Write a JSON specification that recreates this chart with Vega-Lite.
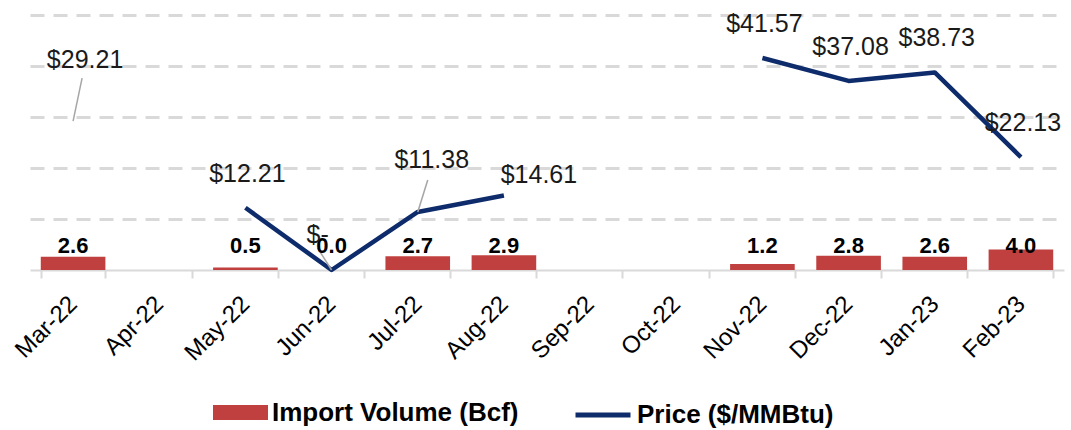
{
  "$schema": "https://vega.github.io/schema/vega-lite/v6.json",
  "width": 1034,
  "height": 255,
  "autosize": {"type": "none"},
  "padding": {"left": 30, "top": 15, "right": 7, "bottom": 160},
  "background": "white",
  "config": {
    "view": {"stroke": null},
    "font": "Liberation Sans",
    "text": {"font": "Liberation Sans"}
  },
  "data": {
    "values": [
      {"month": "Mar-22", "volume": 2.6, "price": 29.21},
      {"month": "Apr-22", "volume": null, "price": null},
      {"month": "May-22", "volume": 0.5, "price": 12.21},
      {"month": "Jun-22", "volume": 0.0, "price": 0},
      {"month": "Jul-22", "volume": 2.7, "price": 11.38},
      {"month": "Aug-22", "volume": 2.9, "price": 14.61},
      {"month": "Sep-22", "volume": null, "price": null},
      {"month": "Oct-22", "volume": null, "price": null},
      {"month": "Nov-22", "volume": 1.2, "price": 41.57},
      {"month": "Dec-22", "volume": 2.8, "price": 37.08},
      {"month": "Jan-23", "volume": 2.6, "price": 38.73},
      {"month": "Feb-23", "volume": 4.0, "price": 22.13}
    ]
  },
  "encoding": {
    "x": {
      "field": "month",
      "type": "nominal",
      "sort": null,
      "scale": {
        "domain": ["Mar-22", "Apr-22", "May-22", "Jun-22", "Jul-22", "Aug-22", "Sep-22", "Oct-22", "Nov-22", "Dec-22", "Jan-23", "Feb-23"],
        "paddingInner": 0.25,
        "paddingOuter": 0.125
      },
      "axis": {
        "title": null,
        "labelAngle": -45,
        "labelFontSize": 24,
        "labelColor": "#000000",
        "labelFont": "Liberation Sans",
        "labelPadding": 22,
        "labelAlign": "right",
        "labelBaseline": "middle",
        "tickBand": "extent",
        "tickColor": "#D9D9D9",
        "tickWidth": 2,
        "tickSize": 8,
        "domainColor": "#D9D9D9",
        "domainWidth": 2,
        "grid": false
      }
    }
  },
  "layer": [
    {
      "mark": {"type": "bar"},
      "encoding": {
        "y": {
          "field": "volume",
          "type": "quantitative",
          "scale": {"domain": [0, 50], "nice": false},
          "axis": {
            "title": null,
            "labels": false,
            "ticks": false,
            "domain": false,
            "grid": true,
            "values": [10, 20, 30, 40, 50],
            "gridColor": "#D9D9D9",
            "gridWidth": 3,
            "gridDash": [14, 9]
          }
        },
        "fill": {
          "datum": "Import Volume (Bcf)",
          "scale": {"range": ["#C0403F"]},
          "legend": {
            "title": null,
            "orient": "none",
            "legendX": 183,
            "legendY": 370,
            "padding": 0,
            "symbolType": "M-1,-0.27H1V0.27H-1Z",
            "symbolSize": 3025,
            "symbolStrokeWidth": 0,
            "labelFontSize": 26,
            "labelFontWeight": "bold",
            "labelColor": "#000000",
            "labelFont": "Liberation Sans",
            "labelLimit": 400,
            "labelOffset": 4
          }
        }
      }
    },
    {
      "mark": {"type": "line", "strokeWidth": 4.5, "invalid": "break-paths-show-domains", "strokeCap": "butt", "strokeJoin": "round"},
      "encoding": {
        "y": {"field": "price", "type": "quantitative", "scale": {"domain": [0, 50], "nice": false}},
        "stroke": {
          "datum": "Price ($/MMBtu)",
          "scale": {"range": ["#0E2C6B"]},
          "legend": {
            "title": null,
            "orient": "none",
            "legendX": 543,
            "legendY": 370,
            "padding": 0,
            "symbolType": "stroke",
            "symbolSize": 3025,
            "symbolStrokeWidth": 5,
            "labelFontSize": 26,
            "labelFontWeight": "bold",
            "labelColor": "#000000",
            "labelFont": "Liberation Sans",
            "labelLimit": 400,
            "labelOffset": 4
          }
        }
      }
    },
    {
      "transform": [{"filter": {"field": "month", "equal": "Mar-22"}}],
      "mark": {"type": "rule", "color": "#A6A6A6", "strokeWidth": 1.5, "x2Offset": 9, "y2Offset": -43},
      "encoding": {
        "y": {"field": "price", "type": "quantitative"},
        "x2": {"field": "month"},
        "y2": {"field": "price"}
      }
    },
    {
      "transform": [{"filter": {"field": "month", "equal": "Jun-22"}}],
      "mark": {"type": "rule", "color": "#A6A6A6", "strokeWidth": 1.5, "x2Offset": -14, "y2Offset": -22},
      "encoding": {
        "y": {"field": "price", "type": "quantitative"},
        "x2": {"field": "month"},
        "y2": {"field": "price"}
      }
    },
    {
      "transform": [{"filter": {"field": "month", "equal": "Jul-22"}}],
      "mark": {"type": "rule", "color": "#A6A6A6", "strokeWidth": 1.5, "x2Offset": 10, "y2Offset": -32},
      "encoding": {
        "y": {"field": "price", "type": "quantitative"},
        "x2": {"field": "month"},
        "y2": {"field": "price"}
      }
    },
    {
      "transform": [{"filter": "isValid(datum.volume)"}],
      "mark": {"type": "text", "fontSize": 22, "fontWeight": "bold", "baseline": "middle", "color": "#000000"},
      "encoding": {
        "y": {"datum": 4.8, "scale": {"domain": [0, 50], "nice": false}},
        "text": {"field": "volume", "type": "quantitative", "format": ".1f"}
      }
    },
    {
      "transform": [{"filter": {"field": "month", "oneOf": ["May-22", "Nov-22", "Dec-22", "Jan-23", "Feb-23"]}}],
      "mark": {"type": "text", "fontSize": 25, "baseline": "middle", "color": "#1A1A1A", "dx": 2, "dy": -34},
      "encoding": {
        "y": {"field": "price", "type": "quantitative"},
        "text": {"field": "price", "type": "quantitative", "format": "$.2f"}
      }
    },
    {
      "transform": [{"filter": {"field": "month", "equal": "Mar-22"}}],
      "mark": {"type": "text", "fontSize": 25, "baseline": "middle", "color": "#1A1A1A", "dx": 12, "dy": -61},
      "encoding": {
        "y": {"field": "price", "type": "quantitative"},
        "text": {"field": "price", "type": "quantitative", "format": "$.2f"}
      }
    },
    {
      "transform": [{"filter": {"field": "month", "equal": "Jun-22"}}],
      "mark": {"type": "text", "fontSize": 25, "baseline": "middle", "color": "#1A1A1A", "dx": -14, "dy": -35},
      "encoding": {
        "y": {"field": "price", "type": "quantitative"},
        "text": {"condition": {"test": "datum.price === 0", "value": "$-"}, "field": "price", "type": "quantitative", "format": "$.2f"}
      }
    },
    {
      "transform": [{"filter": {"field": "month", "equal": "Jul-22"}}],
      "mark": {"type": "text", "fontSize": 25, "baseline": "middle", "color": "#1A1A1A", "dx": 14, "dy": -52},
      "encoding": {
        "y": {"field": "price", "type": "quantitative"},
        "text": {"field": "price", "type": "quantitative", "format": "$.2f"}
      }
    },
    {
      "transform": [{"filter": {"field": "month", "equal": "Aug-22"}}],
      "mark": {"type": "text", "fontSize": 25, "baseline": "middle", "color": "#1A1A1A", "dx": 35, "dy": -20},
      "encoding": {
        "y": {"field": "price", "type": "quantitative"},
        "text": {"field": "price", "type": "quantitative", "format": "$.2f"}
      }
    }
  ],
  "resolve": {"scale": {"fill": "independent", "stroke": "independent"}}
}
